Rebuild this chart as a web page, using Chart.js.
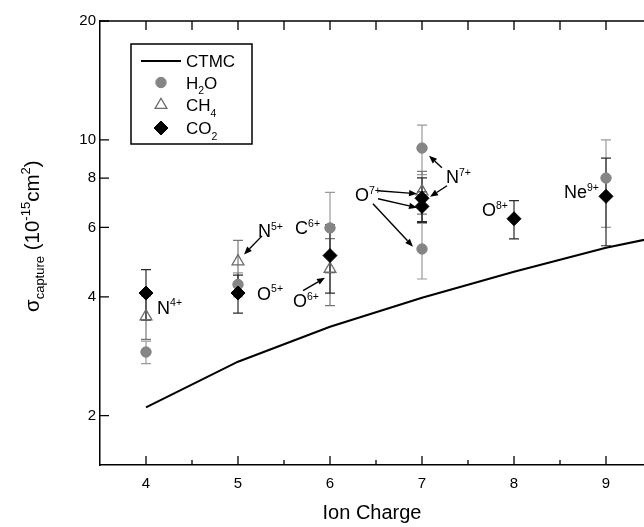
<!DOCTYPE html>
<html><head><meta charset="utf-8">
<script src="https://cdn.jsdelivr.net/npm/chart.js@4.4.1/dist/chart.umd.min.js"></script>
<style>html,body{margin:0;padding:0;background:#fff;overflow:hidden}#wrap{width:644px;height:527px}</style>
</head><body><div id="wrap"><canvas id="c" width="644" height="527"></canvas></div>
<script>
// ---- data ----
const xTicks = [4, 5, 6, 7, 8, 9];
const xTickLabels = ['4', '5', '6', '7', '8', '9'];
const yTicks = [2, 4, 6, 8, 10, 20];
const yTickLabels = ['2', '4', '6', '8', '10', '20'];

const ctmcCharge = [4, 5, 6, 7, 8, 9, 10];
const ctmcSigma  = [2.10, 2.74, 3.36, 3.98, 4.63, 5.33, 5.95];

const h2oCharge = [4, 5, 6, 7, 7, 9];
const h2oSigma  = [2.90, 4.30, 5.98, 9.53, 5.29, 8.00];
const h2oErr    = [0.19, 0.30, 1.38, 1.37, 0.85, 2.00];

const ch4Charge = [4, 5, 6, 7];
const ch4Sigma  = [3.57, 4.92, 4.71, 7.40];
const ch4Err    = [0.45, 0.64, 0.91, 0.92];

const co2Charge = [4, 5, 6, 7, 7, 8, 9];
const co2Sigma  = [4.09, 4.09, 5.09, 7.11, 6.78, 6.31, 7.19];
const co2Err    = [0.60, 0.45, 1.00, 0.90, 0.60, 0.70, 1.80];

// ion labels (main text, superscript) and their anchor in data units
const ionLabels = [
  ['N', '4+'], ['N', '5+'], ['O', '5+'], ['C', '6+'], ['O', '6+'],
  ['O', '7+'], ['N', '7+'], ['O', '8+'], ['Ne', '9+']
];
const ionLabelPos = [
  [4.12, 3.76], [5.217, 5.88], [5.207, 4.08], [5.62, 5.99], [5.598, 3.91],
  [6.272, 7.26], [7.261, 8.06], [7.652, 6.65], [8.543, 7.39]
];
// arrows [x1,y1,x2,y2] in data units
const arrows = [
  [5.261, 5.71, 5.065, 5.12],
  [5.707, 4.15, 5.946, 4.47],
  [6.522, 7.43, 6.946, 7.30],
  [6.522, 7.09, 6.946, 6.73],
  [6.467, 6.89, 6.902, 5.36],
  [7.217, 8.50, 7.076, 9.11],
  [7.272, 7.65, 7.087, 7.17]
];

const FONT = '"Liberation Sans", Arial, Helvetica, sans-serif';
Chart.defaults.font.family = FONT;
Chart.defaults.color = '#000';

const pts = (xs, ys) => xs.map((v, i) => ({x: v, y: ys[i]}));

const styles = {
  h2o: {pointStyle: 'circle', radius: 5.2, fill: '#858585', stroke: '#858585', bw: 1, err: '#9a9a9a'},
  ch4: {pointStyle: 'triangle', radius: 6.8, fill: 'rgba(255,255,255,0)', stroke: '#6a6a6a', bw: 1.3, err: '#777'},
  co2: {pointStyle: 'rectRot', radius: 7, fill: '#000', stroke: '#000', bw: 1, err: '#2a2a2a'}
};

const errSeries = [
  {xs: h2oCharge, ys: h2oSigma, es: h2oErr, color: styles.h2o.err},
  {xs: ch4Charge, ys: ch4Sigma, es: ch4Err, color: styles.ch4.err},
  {xs: co2Charge, ys: co2Sigma, es: co2Err, color: styles.co2.err}
];

function drawRich(ctx, x, y, parts, size) {
  let cx = x;
  parts.forEach(p => {
    let fs = size, dy = 0;
    if (p.sub) { fs = p.fs || size * 0.62; dy = p.dy || size * 0.32; }
    if (p.sup) { fs = p.fs || size * 0.58; dy = p.dy || -size * 0.42; }
    ctx.font = fs + 'px ' + FONT;
    ctx.fillText(p.t, cx, y + dy);
    cx += ctx.measureText(p.t).width;
  });
  return cx - x;
}

const errPlugin = {
  id: 'errbars',
  beforeDatasetsDraw(chart) {
    const {ctx, chartArea: a} = chart;
    const x = chart.scales.x, y = chart.scales.y;
    ctx.save();
    ctx.beginPath(); ctx.rect(a.left, a.top, a.right - a.left, a.bottom - a.top); ctx.clip();
    ctx.lineWidth = 1.2;
    errSeries.forEach(s => {
      ctx.strokeStyle = s.color;
      s.xs.forEach((cx, i) => {
        const px = x.getPixelForValue(cx);
        const t = y.getPixelForValue(s.ys[i] + s.es[i]);
        const b = y.getPixelForValue(s.ys[i] - s.es[i]);
        ctx.beginPath();
        ctx.moveTo(px, t); ctx.lineTo(px, b);
        ctx.moveTo(px - 5, t); ctx.lineTo(px + 5, t);
        ctx.moveTo(px - 5, b); ctx.lineTo(px + 5, b);
        ctx.stroke();
      });
    });
    ctx.restore();
  }
};

const framePlugin = {
  id: 'frame',
  afterDatasetsDraw(chart) {
    const {ctx, chartArea: a} = chart;
    const x = chart.scales.x, y = chart.scales.y;
    ctx.save();
    ctx.strokeStyle = '#000';
    ctx.lineWidth = 1.5;
    ctx.beginPath();
    ctx.moveTo(a.left, a.top); ctx.lineTo(chart.width, a.top);
    ctx.stroke();
    ctx.lineWidth = 1.3;
    ctx.beginPath();
    for (let v = x.min; v <= x.max + 1e-9; v += 0.5) {
      const px = x.getPixelForValue(v);
      if (px <= a.left + 1) continue;
      const major = Math.abs(v - Math.round(v)) < 1e-6;
      const len = major ? 9 : 5;
      ctx.moveTo(px, a.bottom); ctx.lineTo(px, a.bottom - len);
      ctx.moveTo(px, a.top); ctx.lineTo(px, a.top + 9);
    }
    yTicks.forEach(v => {
      const py = y.getPixelForValue(v);
      ctx.moveTo(a.left, py); ctx.lineTo(a.left + 9, py);
    });
    ctx.stroke();

    // ion labels
    ctx.fillStyle = '#000';
    ctx.textBaseline = 'alphabetic';
    ctx.textAlign = 'left';
    ionLabels.forEach((lab, i) => {
      const px = x.getPixelForValue(ionLabelPos[i][0]);
      const py = y.getPixelForValue(ionLabelPos[i][1]);
      drawRich(ctx, px, py + 6.5, [{t: lab[0]}, {t: lab[1], sup: true, fs: 10.5, dy: -7.5}], 18);
    });
    // arrows
    ctx.strokeStyle = '#000';
    ctx.lineWidth = 1.4;
    arrows.forEach(ar => {
      const x1 = x.getPixelForValue(ar[0]), y1 = y.getPixelForValue(ar[1]);
      const x2 = x.getPixelForValue(ar[2]), y2 = y.getPixelForValue(ar[3]);
      const ang = Math.atan2(y2 - y1, x2 - x1);
      const hl = 8, hw = 3.2;
      const bx = x2 - hl * Math.cos(ang), by = y2 - hl * Math.sin(ang);
      ctx.beginPath(); ctx.moveTo(x1, y1); ctx.lineTo(bx, by); ctx.stroke();
      ctx.beginPath();
      ctx.moveTo(x2, y2);
      ctx.lineTo(bx + hw * Math.sin(ang), by - hw * Math.cos(ang));
      ctx.lineTo(bx - hw * Math.sin(ang), by + hw * Math.cos(ang));
      ctx.closePath(); ctx.fill();
    });
    ctx.restore();
  },
  afterDraw(chart) {
    const ctx = chart.ctx;
    const a = chart.chartArea;
    ctx.save();
    // legend box
    const lx = a.left + 31, ly = a.top + 23, lw = 121, lh = 100;
    ctx.fillStyle = '#fff';
    ctx.fillRect(lx, ly, lw, lh);
    ctx.strokeStyle = '#000'; ctx.lineWidth = 1.5;
    ctx.strokeRect(lx, ly, lw, lh);
    const mx = lx + 30, tx = lx + 55;
    const rows = [ly + 17, ly + 38.5, ly + 61, ly + 84];
    ctx.lineWidth = 2;
    ctx.beginPath(); ctx.moveTo(lx + 10, rows[0]); ctx.lineTo(lx + 50, rows[0]); ctx.stroke();
    [styles.h2o, styles.ch4, styles.co2].forEach((s, i) => {
      ctx.fillStyle = s.fill; ctx.strokeStyle = s.stroke; ctx.lineWidth = s.bw;
      Chart.helpers.drawPoint(ctx, {pointStyle: s.pointStyle, radius: s.radius, rotation: 0, borderWidth: s.bw}, mx, rows[i + 1]);
    });
    ctx.fillStyle = '#000';
    ctx.textBaseline = 'alphabetic';
    const fs = 17, bo = 6.2;
    legendLabels.forEach((parts, i) => drawRich(ctx, tx, rows[i] + bo, parts, fs));

    // y axis title
    ctx.translate(39, 312);
    ctx.rotate(-Math.PI / 2);
    drawRich(ctx, 0, 0, [
      {t: 'σ'}, {t: 'capture', sub: true, fs: 13, dy: 5},
      {t: ' (10'}, {t: '-15', sup: true, fs: 13, dy: -9}, 
      {t: 'cm'}, {t: '2', sup: true, fs: 13, dy: -9}, {t: ')'}
    ], 20.5);
    ctx.restore();
  }
};

const legendLabels = [
  [{t: 'CTMC'}],
  [{t: 'H'}, {t: '2', sub: true, fs: 10.5, dy: 5.5}, {t: 'O'}],
  [{t: 'CH'}, {t: '4', sub: true, fs: 10.5, dy: 5.5}],
  [{t: 'CO'}, {t: '2', sub: true, fs: 10.5, dy: 5.5}]
];

const mkScatter = (label, xs, ys, s, order) => ({
  type: 'scatter', label, data: pts(xs, ys), order,
  pointStyle: s.pointStyle, pointRadius: s.radius, pointHoverRadius: s.radius,
  backgroundColor: s.fill, borderColor: s.stroke, pointBorderWidth: s.bw, borderWidth: s.bw
});

new Chart(document.getElementById('c'), {
  type: 'scatter',
  data: {
    datasets: [
      {type: 'line', label: 'CTMC', data: pts(ctmcCharge, ctmcSigma), borderColor: '#000', borderWidth: 2,
       pointRadius: 0, tension: 0, fill: false, order: 4},
      mkScatter('H2O', h2oCharge, h2oSigma, styles.h2o, 3),
      mkScatter('CH4', ch4Charge, ch4Sigma, styles.ch4, 2),
      mkScatter('CO2', co2Charge, co2Sigma, styles.co2, 1)
    ]
  },
  options: {
    responsive: false,
    animation: false,
    devicePixelRatio: 1,
    layout: {autoPadding: false, padding: {left: 0, right: 0, top: 21, bottom: 0}},
    plugins: {legend: {display: false}, tooltip: {enabled: false}, title: {display: false}},
    scales: {
      x: {
        type: 'linear', min: 3.5, max: 9.413,
        grid: {display: false, drawTicks: false},
        border: {display: true, color: '#000', width: 1.5},
        afterBuildTicks: s => { s.ticks = xTicks.map(v => ({value: v})); },
        afterFit: s => { s.height = 62; s.paddingLeft = 0; s.paddingRight = 0; },
        ticks: {padding: 10, font: {size: 15}, color: '#000',
                callback: (v) => { const i = xTicks.indexOf(v); return i >= 0 ? xTickLabels[i] : ''; }},
        title: {display: true, text: 'Ion Charge', font: {size: 20}, color: '#000', padding: {top: 0, bottom: 2}}
      },
      y: {
        type: 'logarithmic', min: 1.5, max: 20,
        grid: {display: false, drawTicks: false},
        border: {display: true, color: '#000', width: 1.5},
        afterBuildTicks: s => { s.ticks = yTicks.map(v => ({value: v})); },
        afterFit: s => { s.width = 100; s.paddingTop = 0; s.paddingBottom = 0; },
        ticks: {padding: 4, font: {size: 15}, color: '#000',
                callback: (v) => { const i = yTicks.indexOf(v); return i >= 0 ? yTickLabels[i] : ''; }}
      }
    }
  },
  plugins: [errPlugin, framePlugin]
});
</script>
</body></html>
